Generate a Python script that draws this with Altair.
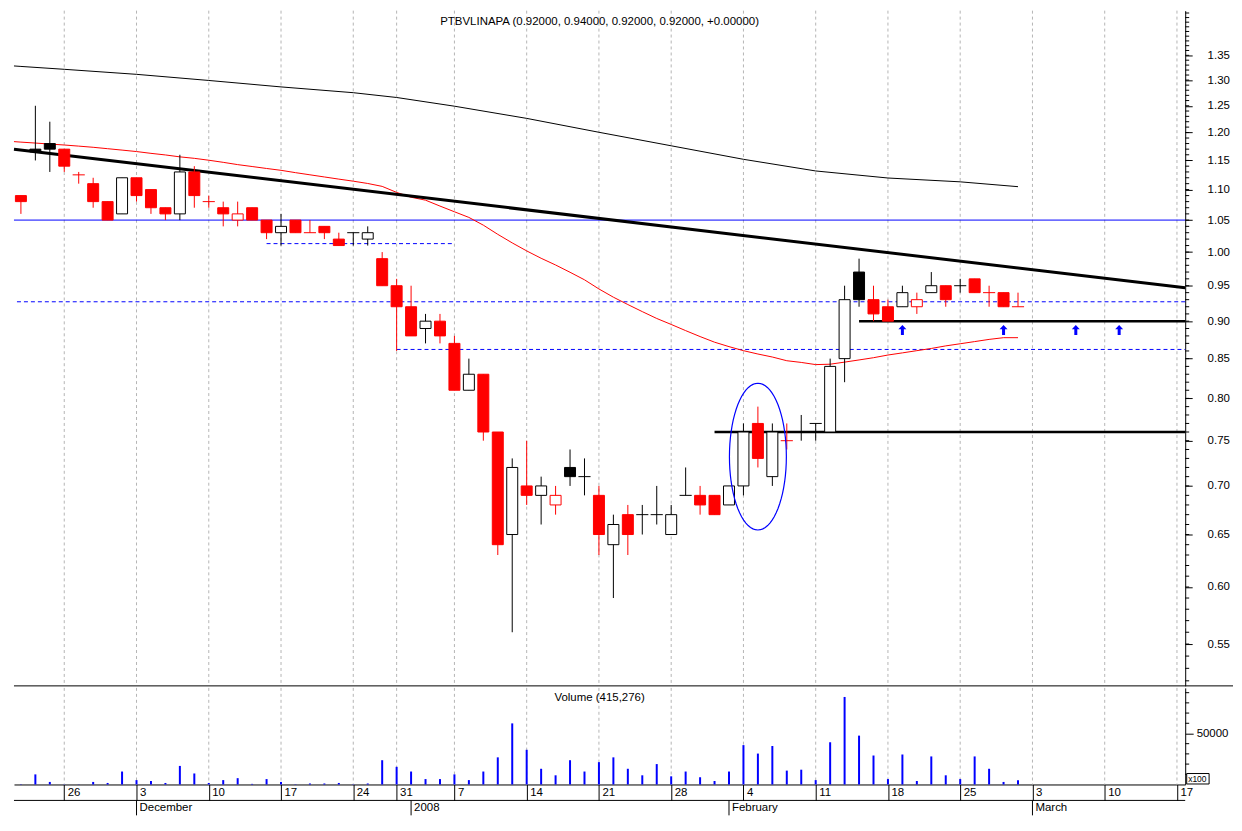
import math
import altair as alt
import pandas as pd

# ---------------- data ----------------
dates = ["2007-11-21", "2007-11-22", "2007-11-23", "2007-11-26", "2007-11-27", "2007-11-28", "2007-11-29", "2007-11-30",
         "2007-12-03", "2007-12-04", "2007-12-05", "2007-12-06", "2007-12-07",
         "2007-12-10", "2007-12-11", "2007-12-12", "2007-12-13", "2007-12-14",
         "2007-12-17", "2007-12-18", "2007-12-19", "2007-12-20", "2007-12-21",
         "2007-12-24", "2007-12-27", "2007-12-28", "2007-12-31",
         "2008-01-02", "2008-01-03", "2008-01-04",
         "2008-01-07", "2008-01-08", "2008-01-09", "2008-01-10", "2008-01-11",
         "2008-01-14", "2008-01-15", "2008-01-16", "2008-01-17", "2008-01-18",
         "2008-01-21", "2008-01-22", "2008-01-23", "2008-01-24", "2008-01-25",
         "2008-01-28", "2008-01-29", "2008-01-30", "2008-01-31", "2008-02-01",
         "2008-02-04", "2008-02-05", "2008-02-06", "2008-02-07", "2008-02-08",
         "2008-02-11", "2008-02-12", "2008-02-13", "2008-02-14", "2008-02-15",
         "2008-02-18", "2008-02-19", "2008-02-20", "2008-02-21", "2008-02-22",
         "2008-02-25", "2008-02-26", "2008-02-27", "2008-02-28", "2008-02-29"]

opens = [1.09, 1.17, 1.18, 1.17, 1.125, 1.11, 1.08, 1.06, 1.12, 1.10, 1.07, 1.06, 1.13, 1.08, 1.07, 1.05, 1.07, 1.05,
         1.03, 1.05, 1.03, 1.04, 1.02, 1.03, 1.02, 0.99, 0.95, 0.92, 0.89, 0.90, 0.87, 0.81, 0.83, 0.76, 0.65,
         0.70, 0.69, 0.68, 0.72, 0.71, 0.69, 0.64, 0.67, 0.67, 0.67, 0.65, 0.69, 0.69, 0.69, 0.68,
         0.70, 0.77, 0.71, 0.75, 0.76, 0.77, 0.76, 0.85, 0.97, 0.93, 0.92, 0.92, 0.92, 0.94, 0.95,
         0.95, 0.96, 0.94, 0.94, 0.92]
highs = [1.09, 1.25, 1.22, 1.17, 1.13, 1.12, 1.08, 1.12, 1.12, 1.10, 1.07, 1.16, 1.14, 1.09, 1.08, 1.08, 1.07, 1.05,
         1.06, 1.05, 1.05, 1.04, 1.03, 1.03, 1.04, 1.00, 0.96, 0.95, 0.91, 0.91, 0.88, 0.85, 0.83, 0.76, 0.73,
         0.75, 0.71, 0.70, 0.74, 0.73, 0.70, 0.67, 0.68, 0.68, 0.70, 0.68, 0.72, 0.70, 0.69, 0.70,
         0.77, 0.79, 0.77, 0.77, 0.78, 0.77, 0.85, 0.95, 0.99, 0.95, 0.93, 0.95, 0.94, 0.97, 0.95,
         0.96, 0.96, 0.95, 0.94, 0.94]
lows = [1.06, 1.15, 1.13, 1.13, 1.11, 1.07, 1.05, 1.06, 1.08, 1.06, 1.05, 1.05, 1.07, 1.07, 1.04, 1.04, 1.05, 1.02,
        1.01, 1.03, 1.03, 1.02, 1.01, 1.01, 1.01, 0.95, 0.86, 0.88, 0.87, 0.87, 0.81, 0.81, 0.75, 0.63, 0.56,
        0.68, 0.66, 0.67, 0.70, 0.69, 0.63, 0.59, 0.63, 0.65, 0.66, 0.65, 0.69, 0.67, 0.67, 0.68,
        0.69, 0.72, 0.70, 0.74, 0.75, 0.75, 0.76, 0.82, 0.92, 0.90, 0.90, 0.92, 0.91, 0.94, 0.92,
        0.94, 0.94, 0.92, 0.92, 0.92]
closes = [1.08, 1.165, 1.17, 1.14, 1.125, 1.08, 1.05, 1.12, 1.09, 1.07, 1.06, 1.13, 1.09, 1.08, 1.06, 1.06, 1.05, 1.03,
          1.04, 1.03, 1.03, 1.03, 1.01, 1.03, 1.03, 0.95, 0.92, 0.88, 0.90, 0.88, 0.81, 0.83, 0.76, 0.64, 0.72,
          0.69, 0.70, 0.69, 0.71, 0.71, 0.65, 0.66, 0.65, 0.67, 0.67, 0.67, 0.69, 0.68, 0.67, 0.70,
          0.76, 0.73, 0.76, 0.75, 0.76, 0.77, 0.84, 0.93, 0.93, 0.91, 0.90, 0.94, 0.93, 0.95, 0.93,
          0.95, 0.94, 0.94, 0.92, 0.92]
volumes = [30000, 990000, 250000, 20000, 20000, 250000, 150000, 1270000, 430000, 340000, 150000, 1820000, 1080000,
           150000, 430000, 620000, 60000, 530000, 250000, 30000, 100000, 100000, 150000, 30000, 100000, 2380000,
           1730000, 1270000, 530000, 530000, 990000, 430000, 1270000, 2660000, 5990000, 3400000, 1540000, 900000,
           2380000, 1270000, 2190000, 2660000, 1540000, 900000, 2000000, 800000, 1270000, 710000, 340000, 1270000,
           3860000, 3030000, 3770000, 1360000, 1450000, 430000, 4140000, 8580000, 4790000, 2840000, 530000,
           2940000, 340000, 2750000, 900000, 530000, 2750000, 1540000, 250000, 415276]

ma_red_day = [-0.48] + list(range(70))
ma_red = [1.1835,
          1.1826, 1.1809, 1.1791, 1.1774, 1.1754, 1.1733, 1.1708, 1.1683, 1.1657, 1.1625, 1.1597, 1.1563, 1.1537,
          1.1504, 1.1467, 1.1427, 1.1394, 1.1360, 1.1328, 1.1288, 1.1251, 1.1214, 1.1177, 1.1142, 1.1103, 1.1054,
          1.0953, 1.0872, 1.0824, 1.0727, 1.0634, 1.0543, 1.0419, 1.0274, 1.0141, 1.0018, 0.9906, 0.9805, 0.9697,
          0.9586, 0.9453, 0.9335, 0.9231, 0.9132, 0.9037, 0.8955, 0.8871, 0.8791, 0.8716, 0.8657, 0.8604, 0.8560,
          0.8521, 0.8473, 0.8451, 0.8423, 0.8428, 0.8455, 0.8483, 0.8512, 0.8547, 0.8575, 0.8604, 0.8633, 0.8667,
          0.8695, 0.8724, 0.8753, 0.8776, 0.8776]
ma_long_day = [-0.48, 0, 3, 8, 13, 18, 23, 26, 30, 35, 40, 45, 50, 55, 60, 65, 69]
ma_long = [1.3283, 1.3273, 1.3215, 1.3114, 1.2992, 1.2865, 1.2752, 1.2659, 1.2492, 1.2262, 1.2005, 1.1760, 1.1520,
           1.1317, 1.1196, 1.1131, 1.1049]

trend_day = [-0.48, 80.57]
trend_price = [1.170, 0.947]

week_pos = [3, 8, 13, 18, 23, 26, 30, 35, 40, 45, 50, 55, 60, 65, 70, 75, 80]
week_labels = ["26", "3", "10", "17", "24", "31", "7", "14", "21", "28", "4", "11", "18", "25", "3", "10", "17"]
month_pos = [8, 27, 49, 70]
month_labels = ["December", "2008", "February", "March"]

full_blue_solid = [1.05]
full_blue_dash = [0.927]
seg_blue_dash_start = [26, 17]
seg_blue_dash_end = [80.57, 30]
seg_blue_dash_price = [0.862, 1.013]
seg_black_start = [48, 58]
seg_black_end = [80.57, 80.57]
seg_black_price = [0.76, 0.90]

arrow_day = [61, 68, 73, 76]
arrow_price = [0.888, 0.888, 0.888, 0.888]
ellipse_day = [51]
ellipse_price = [0.732]

price_major = [round(0.55 + 0.05 * k, 2) for k in range(17)]
price_minor = [round(0.52 + 0.01 * k, 2) for k in range(93)]
vol_major = [50000]
vol_minor = [10000, 20000, 30000, 40000, 60000, 70000, 80000, 90000]

# ---------------- layout ----------------
W, H1, H2 = 1176, 678, 97
RED, BLACK, BLUE = "#ff0000", "#000000", "#0000ff"
FONT = "Liberation Sans"
FS = 11.5

xs = alt.Scale(domain=[-0.48, 80.57], nice=False, zero=False)
ys = alt.Scale(type="log", domain=[0.516, 1.4452], nice=False)
vs = alt.Scale(domain=[0, 94700], nice=False, zero=True)

df = pd.DataFrame({"date": dates, "open": opens, "high": highs, "low": lows, "close": closes, "volume": volumes})
df["i"] = range(len(df))
cols = []
for k in range(len(df)):
    c, o = closes[k], opens[k]
    if k == 0:
        cols.append(RED if c < o else BLACK)
    elif c > closes[k - 1]:
        cols.append(BLACK)
    elif c < closes[k - 1]:
        cols.append(RED)
    else:
        cols.append(cols[-1])
df["col"] = cols
df["fillc"] = [cols[k] if closes[k] < opens[k] else "#ffffff" for k in range(len(df))]
df["xl"] = df["i"] - 0.38
df["xr"] = df["i"] + 0.38
df["dl"] = df["i"] - 0.42
df["dr"] = df["i"] + 0.42
df["vol100"] = df["volume"] / 100.0
df["zero"] = 0.0

weeks = pd.DataFrame({"pos": week_pos, "lab": week_labels})
months = pd.DataFrame({"pos": month_pos, "lab": month_labels})

last = df.iloc[-1]
chg = closes[-1] - closes[-2]
title_txt = "PTBVLINAPA ({:.5f}, {:.5f}, {:.5f}, {:.5f}, {:+.5f})".format(last.open, last.high, last.low, last.close, chg)
vol_title = "Volume ({:,})".format(int(volumes[-1]))

# custom symbol paths (shapes only)
ell_ratio = 0.388
pts = []
for k in range(73):
    t = 2 * math.pi * k / 72
    pts.append("{:.4f},{:.4f}".format(ell_ratio * math.sin(t), -math.cos(t)))
ellipse_path = "M" + " L".join(pts) + " Z"
arrow_path = "M0,-1 L0.8,-0.15 L0.3,-0.15 L0.3,1 L-0.3,1 L-0.3,-0.15 L-0.8,-0.15 Z"

# ---------------- axes ----------------
price_axis = alt.Axis(orient="right", values=price_major, format=".2f", tickSize=7, tickColor=BLACK, domainColor=BLACK,
                      labelColor=BLACK, labelPadding=15, labelFontSize=FS, labelFont=FONT, grid=False, title=None,
                      labelFlush=False, labelOverlap=False, labelBound=False)
label_expr = "[" + ",".join("'" + s + "'" for s in week_labels) + "][indexof([" + ",".join(str(p) for p in week_pos) + "], datum.value)]"
date_axis = alt.Axis(orient="bottom", values=week_pos, labelExpr=label_expr, tickSize=16, tickColor=BLACK,
                     domainColor=BLACK, labelColor=BLACK, labelAlign="left", labelBaseline="middle", labelPadding=-8,
                     labelOffset=3, labelFontSize=FS, labelFont=FONT, grid=False, title=None, labelFlush=False,
                     labelOverlap=False, labelBound=False)
vol_axis = alt.Axis(orient="right", values=vol_major, format="d", tickSize=8, tickColor=BLACK, domainColor=BLACK,
                    labelColor=BLACK, labelPadding=3, labelFontSize=FS, labelFont=FONT, grid=False, title=None,
                    labelFlush=False, labelOverlap=False, labelBound=False)

X = lambda f: alt.X(f, scale=xs, axis=None)
Y = lambda f: alt.Y(f, scale=ys, axis=price_axis)
XV = lambda f: alt.X(f, scale=xs, axis=date_axis)
YV = lambda f: alt.Y(f, scale=vs, axis=vol_axis)

# ---------------- price panel ----------------
grid = alt.Chart(weeks).mark_rule(color="#b4b4b4", strokeDash=[3, 3], strokeWidth=1).encode(x=X("pos:Q"))

hsolid = alt.Chart(pd.DataFrame({"p": full_blue_solid})).mark_rule(color=BLUE, strokeWidth=1).encode(y=Y("p:Q"))
hdash = alt.Chart(pd.DataFrame({"p": full_blue_dash})).mark_rule(color=BLUE, strokeWidth=1, strokeDash=[4, 3]).encode(y=Y("p:Q"))
segdash = alt.Chart(pd.DataFrame({"s": seg_blue_dash_start, "e": seg_blue_dash_end, "p": seg_blue_dash_price})).mark_rule(
    color=BLUE, strokeWidth=1, strokeDash=[4, 3]).encode(x=X("s:Q"), x2="e:Q", y=Y("p:Q"))
segblack = alt.Chart(pd.DataFrame({"s": seg_black_start, "e": seg_black_end, "p": seg_black_price})).mark_rule(
    color=BLACK, strokeWidth=2.5).encode(x=X("s:Q"), x2="e:Q", y=Y("p:Q"))

ma_long_line = alt.Chart(pd.DataFrame({"d": ma_long_day, "p": ma_long})).mark_line(color=BLACK, strokeWidth=1).encode(
    x=X("d:Q"), y=Y("p:Q"))
ma_red_line = alt.Chart(pd.DataFrame({"d": ma_red_day, "p": ma_red})).mark_line(color=RED, strokeWidth=1).encode(
    x=X("d:Q"), y=Y("p:Q"))
trend = alt.Chart(pd.DataFrame({"d": trend_day, "p": trend_price})).mark_line(color=BLACK, strokeWidth=3).encode(
    x=X("d:Q"), y=Y("p:Q"))

wicks = alt.Chart(df).mark_rule(strokeWidth=1).encode(
    x=X("i:Q"), y=Y("low:Q"), y2="high:Q", color=alt.Color("col:N", scale=None))
bodies = alt.Chart(df).transform_filter("datum.open != datum.close").mark_rect(strokeWidth=1).encode(
    x=X("xl:Q"), x2="xr:Q", y=Y("open:Q"), y2="close:Q",
    fill=alt.Fill("fillc:N", scale=None), stroke=alt.Stroke("col:N", scale=None))
dojis = alt.Chart(df).transform_filter("datum.open == datum.close").mark_rule(strokeWidth=1).encode(
    x=X("dl:Q"), x2="dr:Q", y=Y("close:Q"), color=alt.Color("col:N", scale=None))

ellipse = alt.Chart(pd.DataFrame({"d": ellipse_day, "p": ellipse_price})).mark_point(
    shape=ellipse_path, size=21700, filled=False, color=BLUE, strokeWidth=1.2, opacity=1).encode(x=X("d:Q"), y=Y("p:Q"))
arrows = alt.Chart(pd.DataFrame({"d": arrow_day, "p": arrow_price})).mark_point(
    shape=arrow_path, size=100, filled=True, color=BLUE, opacity=1).encode(x=X("d:Q"), y=Y("p:Q"))

pminor = alt.Chart(pd.DataFrame({"v": price_minor})).mark_rule(color=BLACK, strokeWidth=1).encode(
    y=Y("v:Q"), x=alt.value(W), x2=alt.value(W + 4))
ptitle = alt.Chart(pd.DataFrame({"t": [title_txt]})).mark_text(font=FONT, fontSize=FS, color=BLACK, baseline="middle").encode(
    text="t:N", x=alt.value(W / 2), y=alt.value(11))
sep = alt.Chart(pd.DataFrame({"a": [0]})).mark_rule(color=BLACK, strokeWidth=1).encode(
    x=alt.value(0), x2=alt.value(W + 48), y=alt.value(H1))

price = alt.layer(grid, hsolid, hdash, segdash, segblack, ma_long_line, ma_red_line, trend, wicks, bodies, dojis,
                  ellipse, arrows, pminor, ptitle, sep).properties(width=W, height=H1)

# ---------------- volume panel ----------------
vgrid = alt.Chart(weeks).mark_rule(color="#b4b4b4", strokeDash=[3, 3], strokeWidth=1).encode(x=XV("pos:Q"))
vbars = alt.Chart(df).mark_rule(color=BLUE, strokeWidth=2).encode(
    x=XV("i:Q"), y=YV("vol100:Q"), y2="zero:Q")
vminor = alt.Chart(pd.DataFrame({"v": vol_minor})).mark_rule(color=BLACK, strokeWidth=1).encode(
    y=YV("v:Q"), x=alt.value(W), x2=alt.value(W + 4))
vtitle = alt.Chart(pd.DataFrame({"t": [vol_title]})).mark_text(font=FONT, fontSize=FS, color=BLACK, baseline="middle").encode(
    text="t:N", x=alt.value(W / 2), y=alt.value(10))
xbox = alt.Chart(pd.DataFrame({"a": [0]})).mark_rect(fill="#ffffff", stroke=BLACK, strokeWidth=1).encode(
    x=alt.value(W + 1.5), x2=alt.value(W + 24), y=alt.value(H2 - 11), y2=alt.value(H2 - 0.5))
xtext = alt.Chart(pd.DataFrame({"t": ["x100"]})).mark_text(font=FONT, fontSize=8.5, color=BLACK, align="left",
                                                           baseline="middle").encode(
    text="t:N", x=alt.value(W + 3), y=alt.value(H2 - 5.5))
row_line = alt.Chart(pd.DataFrame({"a": [0]})).mark_rule(color=BLACK, strokeWidth=1).encode(
    x=alt.value(0), x2=alt.value(W), y=alt.value(H2 + 16))
month_ticks = alt.Chart(months).mark_rule(color=BLACK, strokeWidth=1).encode(
    x=XV("pos:Q"), y=alt.value(H2 + 16), y2=alt.value(H2 + 31))
month_text = alt.Chart(months).mark_text(font=FONT, fontSize=FS, color=BLACK, align="left", baseline="middle", dx=3).encode(
    x=XV("pos:Q"), y=alt.value(H2 + 24), text="lab:N")

volume = alt.layer(vgrid, vbars, vminor, vtitle, xbox, xtext, row_line, month_ticks, month_text).properties(width=W, height=H2)

chart = alt.vconcat(price, volume, spacing=0).properties(padding=0).configure(font=FONT).configure_view(stroke=None)

chart.save("out.html", embed_options={"renderer": "svg", "actions": False})
